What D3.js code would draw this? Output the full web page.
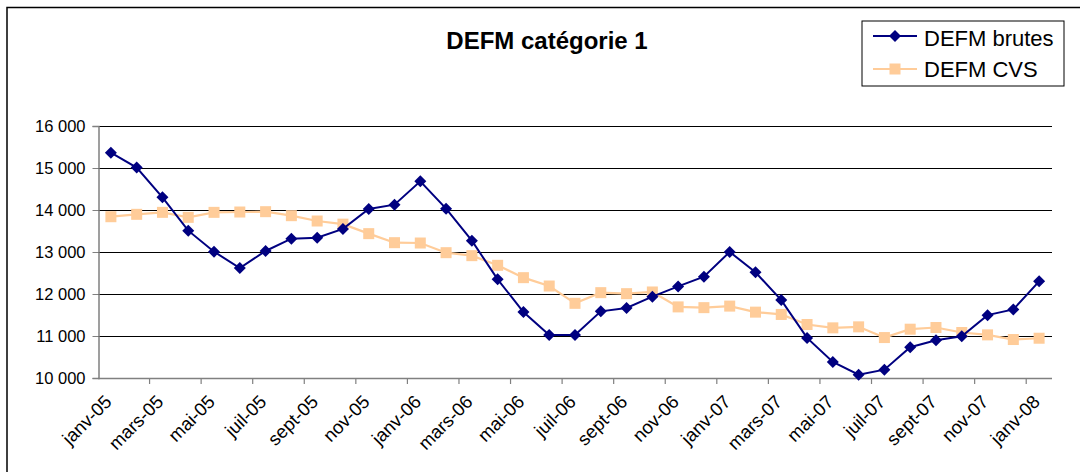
<!DOCTYPE html>
<html><head><meta charset="utf-8">
<script src="https://cdn.jsdelivr.net/npm/d3@7"></script>
<style>body{margin:0;background:#fff}svg{display:block}text{font-family:"Liberation Sans",Arial,sans-serif}</style>
</head><body><svg id="c" width="1080" height="472"></svg>
<script>
const months = ["janv-05","févr-05","mars-05","avr-05","mai-05","juin-05","juil-05","août-05","sept-05","oct-05","nov-05","déc-05",
"janv-06","févr-06","mars-06","avr-06","mai-06","juin-06","juil-06","août-06","sept-06","oct-06","nov-06","déc-06",
"janv-07","févr-07","mars-07","avr-07","mai-07","juin-07","juil-07","août-07","sept-07","oct-07","nov-07","déc-07","janv-08"];
const brutes = [15365,15010,14302,13508,13008,12619,13024,13317,13341,13550,14024,14127,14683,14032,13270,12349,11571,11024,11024,11587,11667,11937,12180,12412,13002,12516,11855,10955,10382,10080,10199,10732,10900,10995,11497,11632,12301];
const cvs = [13840,13897,13944,13825,13944,13952,13960,13865,13738,13663,13437,13222,13214,12984,12913,12683,12389,12190,11778,12032,12008,12048,11693,11675,11712,11568,11513,11274,11194,11218,10963,11162,11202,11083,11027,10916,10947];
const yTicks = [10000,11000,12000,13000,14000,15000,16000];
const seriesNames = ["DEFM brutes","DEFM CVS"];
const title = "DEFM catégorie 1";

const svg = d3.select("#c");
const L=98, R=1052, T=126, B=378;
const x = d3.scaleBand().domain(months).range([L,R]).padding(0);
const y = d3.scaleLinear().domain([10000,16000]).range([B,T]);
const fmt = v => d3.format(",")(v).replace(/,/g," ");

// outer border
svg.append("rect").attr("x",7).attr("y",7.5).attr("width",1100).attr("height",500)
  .attr("fill","none").attr("stroke","#000").attr("stroke-width",1.5);

// title
svg.append("text").attr("x",547).attr("y",49).attr("text-anchor","middle")
  .attr("font-size",24).attr("font-weight","bold").text(title);

// gridlines
svg.append("g").selectAll("line").data(yTicks.slice(1)).join("line")
  .attr("x1",L).attr("x2",R).attr("y1",d=>Math.round(y(d))+0.5).attr("y2",d=>Math.round(y(d))+0.5)
  .attr("stroke","#000").attr("stroke-width",1);

// y axis
const ya = svg.append("g").attr("transform",`translate(${L+0.5},0)`)
  .call(d3.axisLeft(y).tickValues(yTicks).tickFormat(fmt).tickSize(6).tickPadding(7));
ya.select(".domain").attr("stroke","#808080").attr("stroke-width",1.5);
ya.selectAll(".tick line").attr("stroke","#808080");
ya.selectAll("text").attr("font-size",16.5).attr("fill","#000").attr("font-family","Liberation Sans, Arial, sans-serif");

// x axis: ticks at category boundaries every 2 months
const bounds = d3.range(0, months.length+1);
const xa = svg.append("g");
xa.append("line").attr("x1",L).attr("x2",R).attr("y1",B+0.5).attr("y2",B+0.5).attr("stroke","#808080").attr("stroke-width",1.5);
xa.selectAll("line.t").data(bounds.filter(i=>i%2===0 && i>0 && i<months.length)).join("line").attr("class","t")
  .attr("x1",i=>L+i*x.bandwidth()).attr("x2",i=>L+i*x.bandwidth()).attr("y1",B).attr("y2",B+6)
  .attr("stroke","#808080").attr("stroke-width",1.2);
xa.selectAll("text").data(months.filter((m,i)=>i%2===0)).join("text")
  .attr("transform",d=>`translate(${x(d)+x.bandwidth()/2+2},${B+25}) rotate(-45)`)
  .attr("text-anchor","end").attr("font-size",18.5).text(d=>d);

// lines
const line = d3.line().x((d,i)=>x(months[i])+x.bandwidth()/2).y(d=>y(d));
svg.append("path").datum(cvs).attr("d",line).attr("fill","none").attr("stroke","#FFCC99").attr("stroke-width",2.2);
svg.append("g").selectAll("rect").data(cvs).join("rect")
  .attr("x",(d,i)=>x(months[i])+x.bandwidth()/2-5.5).attr("y",d=>y(d)-5.5)
  .attr("width",11).attr("height",11).attr("fill","#FFCC99");
svg.append("path").datum(brutes).attr("d",line).attr("fill","none").attr("stroke","#000080").attr("stroke-width",2);
const diamond = "M0,-6L6,0L0,6L-6,0Z";
svg.append("g").selectAll("path").data(brutes).join("path")
  .attr("transform",(d,i)=>`translate(${x(months[i])+x.bandwidth()/2},${y(d)})`)
  .attr("d",diamond).attr("fill","#000080");

// legend
const lg = svg.append("g");
lg.append("rect").attr("x",862).attr("y",21).attr("width",202).attr("height",65)
  .attr("fill","#fff").attr("stroke","#000").attr("stroke-width",1);
lg.append("line").attr("x1",873).attr("x2",917).attr("y1",36).attr("y2",36).attr("stroke","#000080").attr("stroke-width",2);
lg.append("path").attr("transform","translate(895,36)").attr("d",diamond).attr("fill","#000080");
lg.append("text").attr("x",924).attr("y",46).attr("font-size",22).text(seriesNames[0]);
lg.append("line").attr("x1",873).attr("x2",917).attr("y1",69).attr("y2",69).attr("stroke","#FFCC99").attr("stroke-width",2.2);
lg.append("rect").attr("x",889.5).attr("y",63.5).attr("width",11).attr("height",11).attr("fill","#FFCC99");
lg.append("text").attr("x",924).attr("y",77).attr("font-size",22).text(seriesNames[1]);
</script></body></html>
